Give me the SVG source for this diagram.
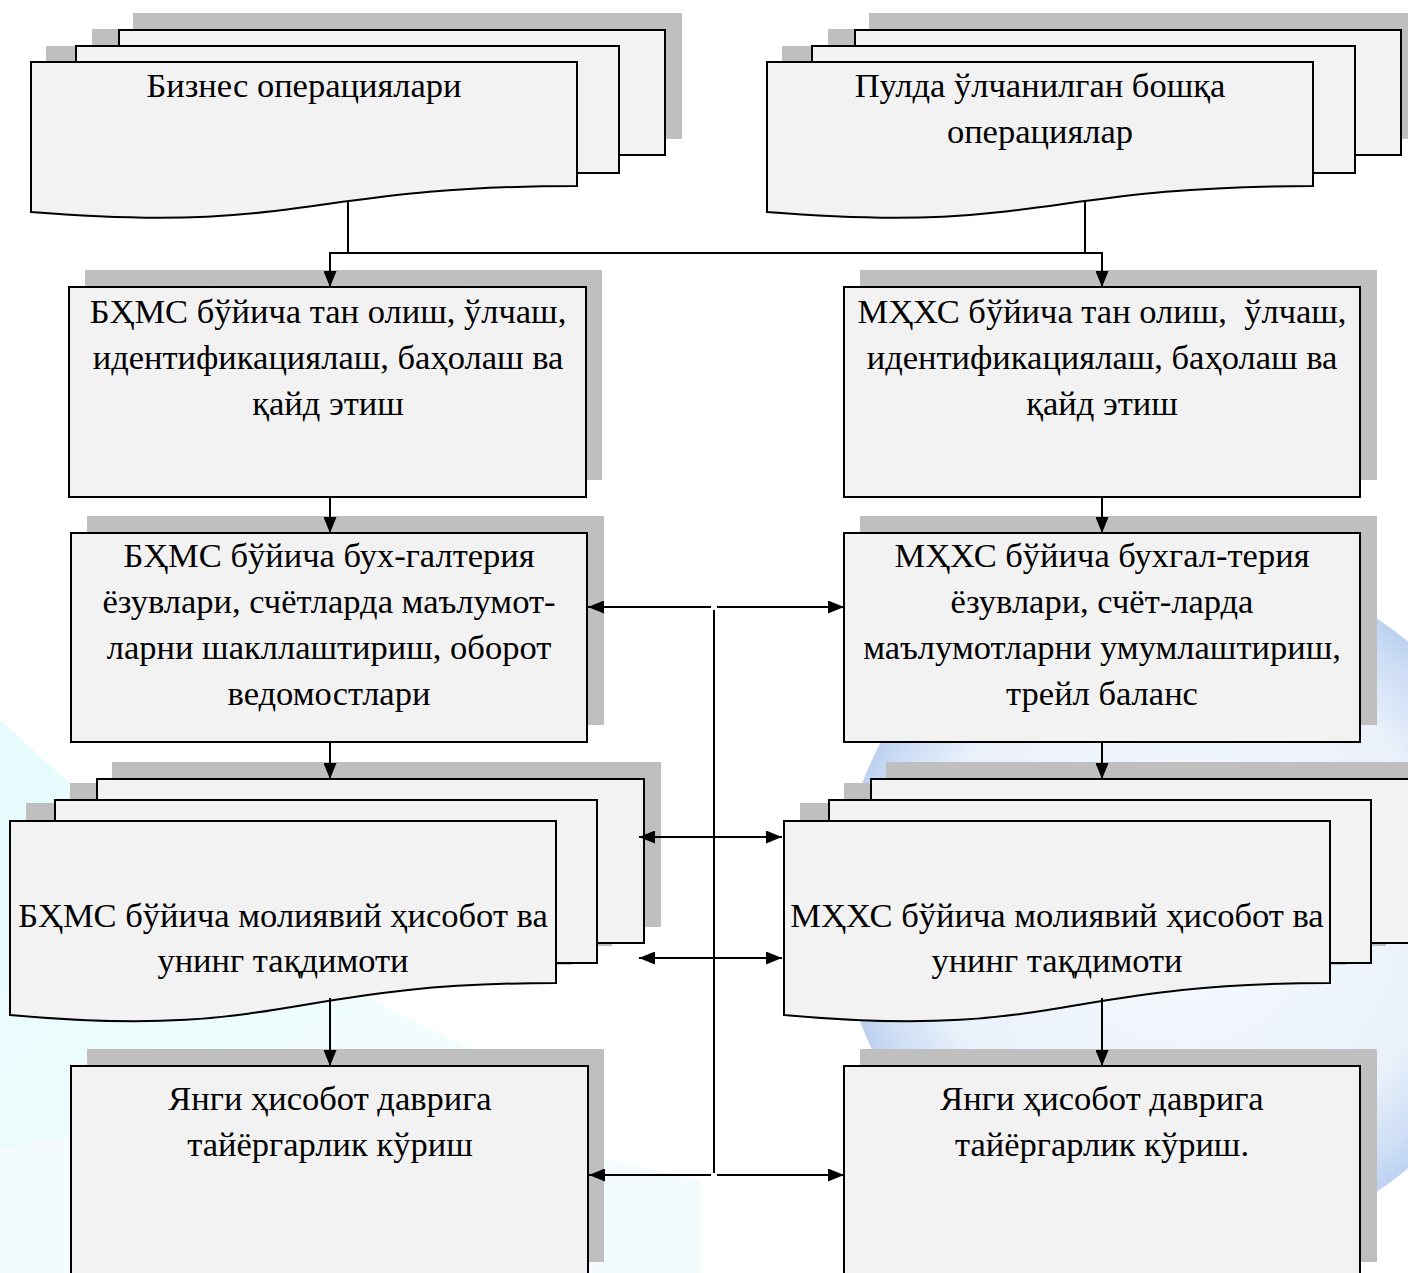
<svg xmlns="http://www.w3.org/2000/svg" width="1408" height="1273" viewBox="0 0 1408 1273">
<style>
.sh{fill:#bfbfbf;stroke:none}
.pg{fill:#f2f2f2;stroke:#000;stroke-width:2}
.t{font-family:"Liberation Serif","DejaVu Serif","Times New Roman",serif;font-size:34.5px;fill:#000;text-anchor:middle}
.c{fill:none;stroke:#000;stroke-width:2}
.a{fill:none;stroke:#000;stroke-width:2;marker-end:url(#ah)}
.d{fill:none;stroke:#000;stroke-width:2;marker-end:url(#ah);marker-start:url(#ah)}
</style>
<defs>
<marker id="ah" viewBox="0 0 16 13" refX="16" refY="6.5" markerWidth="16" markerHeight="13" markerUnits="userSpaceOnUse" orient="auto-start-reverse">
<path d="M0,0 L16,6.5 L0,13 z" fill="#000"/>
</marker>
<radialGradient id="globe" cx="0.5" cy="0.5" r="0.5">
<stop offset="0" stop-color="#f6fafe"/>
<stop offset="0.75" stop-color="#e2ecf9"/>
<stop offset="0.92" stop-color="#bcd2f1"/>
<stop offset="1" stop-color="#a6c2ec"/>
</radialGradient>
<linearGradient id="swoosh" x1="0" y1="0" x2="1" y2="1">
<stop offset="0" stop-color="#dcfafc"/>
<stop offset="1" stop-color="#f5fdfe"/>
</linearGradient>
<path id="doc1" d="M31,62 H577 V186 C304,186 304,234 31,212 Z"/>
<path id="doc3" d="M10,821 H556 V983 C283,983 283,1040 10,1015 Z"/>
</defs>
<rect x="0" y="0" width="1408" height="1273" fill="#fff"/>
<g id="background" opacity="0.75">
<path d="M0,720 C120,830 260,960 520,1070 L520,1273 L0,1273 Z" fill="url(#swoosh)"/>
<path d="M0,1150 C200,1100 450,1120 700,1180 L700,1273 L0,1273 Z" fill="#f0fafd"/>
<circle cx="1185" cy="905" r="345" fill="url(#globe)"/>
</g>

<g id="node-business-ops">
<rect class="sh" x="133" y="13" width="549" height="126"/>
<rect class="sh" x="92" y="29" width="543" height="127"/>
<use href="#doc1" class="sh" transform="translate(15,-16)"/>
<rect class="pg" x="119" y="30" width="546" height="125"/>
<rect class="pg" x="76" y="46" width="543" height="127"/>
<use href="#doc1" class="pg"/>
<text class="t" x="304" y="97">Бизнес операциялари</text>
</g>

<g id="node-other-ops">
<g transform="translate(736,0)">
<rect class="sh" x="133" y="13" width="549" height="126"/>
<rect class="sh" x="92" y="29" width="543" height="127"/>
<use href="#doc1" class="sh" transform="translate(15,-16)"/>
<rect class="pg" x="119" y="30" width="546" height="125"/>
<rect class="pg" x="76" y="46" width="543" height="127"/>
<use href="#doc1" class="pg"/>
</g>
<text class="t" x="1040" y="97">Пулда ўлчанилган бошқа</text>
<text class="t" x="1040" y="143">операциялар</text>
</g>

<g id="node-bhms-recognition">
<rect class="sh" x="85" y="270" width="517" height="210"/>
<rect class="pg" x="69" y="287" width="517" height="210"/>
<text class="t" x="328" y="323">БҲМС бўйича тан олиш, ўлчаш,</text>
<text class="t" x="328" y="369">идентификациялаш, баҳолаш ва</text>
<text class="t" x="328" y="415">қайд этиш</text>
</g>

<g id="node-mhhs-recognition">
<rect class="sh" x="860" y="270" width="517" height="210"/>
<rect class="pg" x="844" y="287" width="516" height="210"/>
<text class="t" x="1102" y="323" xml:space="preserve">МҲХС бўйича тан олиш,  ўлчаш,</text>
<text class="t" x="1102" y="369">идентификациялаш, баҳолаш ва</text>
<text class="t" x="1102" y="415">қайд этиш</text>
</g>

<g id="node-bhms-entries">
<rect class="sh" x="87" y="516" width="517" height="209"/>
<rect class="pg" x="71" y="533" width="516" height="209"/>
<text class="t" x="329" y="567">БҲМС бўйича бух-галтерия</text>
<text class="t" x="329" y="613">ёзувлари, счётларда маълумот-</text>
<text class="t" x="329" y="659">ларни шакллаштириш, оборот</text>
<text class="t" x="329" y="705">ведомостлари</text>
</g>

<g id="node-mhhs-entries">
<rect class="sh" x="860" y="516" width="517" height="209"/>
<rect class="pg" x="844" y="533" width="516" height="209"/>
<text class="t" x="1102" y="567">МҲХС бўйича бухгал-терия</text>
<text class="t" x="1102" y="613">ёзувлари, счёт-ларда</text>
<text class="t" x="1102" y="659">маълумотларни умумлаштириш,</text>
<text class="t" x="1102" y="705">трейл баланс</text>
</g>

<g id="node-bhms-report">
<rect class="sh" x="112" y="762" width="549" height="165"/>
<rect class="sh" x="70" y="783" width="542" height="163"/>
<use href="#doc3" class="sh" transform="translate(16,-18)"/>
<rect class="pg" x="97" y="779" width="547" height="164"/>
<rect class="pg" x="55" y="800" width="542" height="163"/>
<use href="#doc3" class="pg"/>
<text class="t" x="283" y="927">БҲМС бўйича молиявий ҳисобот ва</text>
<text class="t" x="283" y="972">унинг тақдимоти</text>
</g>

<g id="node-mhhs-report">
<g transform="translate(774,0)">
<rect class="sh" x="112" y="762" width="549" height="165"/>
<rect class="sh" x="70" y="783" width="542" height="163"/>
<use href="#doc3" class="sh" transform="translate(16,-18)"/>
<rect class="pg" x="97" y="779" width="547" height="164"/>
<rect class="pg" x="55" y="800" width="542" height="163"/>
<use href="#doc3" class="pg"/>
</g>
<text class="t" x="1057" y="927">МҲХС бўйича молиявий ҳисобот ва</text>
<text class="t" x="1057" y="972">унинг тақдимоти</text>
</g>

<g id="node-bhms-next">
<rect class="sh" x="87" y="1049" width="517" height="213"/>
<rect class="pg" x="71" y="1066" width="517" height="213"/>
<text class="t" x="330" y="1110">Янги ҳисобот даврига</text>
<text class="t" x="330" y="1156">тайёргарлик кўриш</text>
</g>

<g id="node-mhhs-next">
<rect class="sh" x="860" y="1049" width="517" height="213"/>
<rect class="pg" x="844" y="1066" width="516" height="213"/>
<text class="t" x="1102" y="1110">Янги ҳисобот даврига</text>
<text class="t" x="1102" y="1156">тайёргарлик кўриш.</text>
</g>

<g id="connectors">
<line class="c" x1="348" y1="201" x2="348" y2="253"/>
<line class="c" x1="1085" y1="200" x2="1085" y2="253"/>
<line class="c" x1="329" y1="253" x2="1103" y2="253"/>
<line class="a" x1="330" y1="253" x2="330" y2="287"/>
<line class="a" x1="1102" y1="253" x2="1102" y2="287"/>
<line class="a" x1="330" y1="497" x2="330" y2="533"/>
<line class="a" x1="1102" y1="497" x2="1102" y2="533"/>
<line class="a" x1="330" y1="742" x2="330" y2="779"/>
<line class="a" x1="1102" y1="742" x2="1102" y2="779"/>
<line class="a" x1="330" y1="998" x2="330" y2="1066"/>
<line class="a" x1="1102" y1="998" x2="1102" y2="1066"/>
<line class="a" x1="711" y1="607" x2="588" y2="607"/>
<line class="a" x1="717" y1="607" x2="844" y2="607"/>
<line class="c" x1="714" y1="610" x2="714" y2="1173"/>
<line class="d" x1="639" y1="837" x2="782" y2="837"/>
<line class="d" x1="639" y1="958" x2="782" y2="958"/>
<line class="a" x1="711" y1="1175" x2="589" y2="1175"/>
<line class="a" x1="717" y1="1175" x2="844" y2="1175"/>
</g>
</svg>
